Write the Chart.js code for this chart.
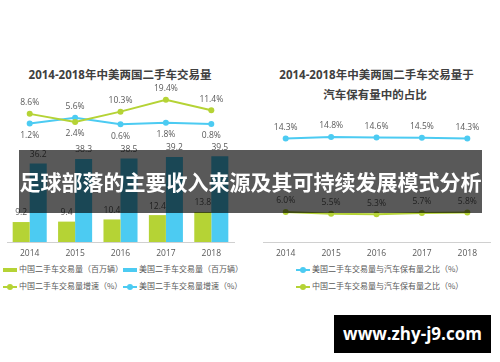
<!DOCTYPE html>
<html>
<head>
<meta charset="utf-8">
<script src="https://cdn.jsdelivr.net/npm/chart.js@4"></script>
<style>
  body { margin: 0; background: #fff; }
  #page { position: relative; width: 500px; height: 362px; overflow: hidden; background: #fff;
          font-family: 'Open Sans', 'Noto Sans CJK SC', sans-serif; }
  canvas { position: absolute; }
  .title { position: absolute; color: #404040; font-weight: bold; font-size: 11.5px; text-align: center;
           white-space: nowrap; line-height: 14px; }
  .legend { position: absolute; font-size: 8px; color: #595959; white-space: nowrap; line-height: 10px;
            font-family: 'Noto Sans CJK SC', sans-serif; }
  .legend i { display: inline-block; position: relative; vertical-align: middle; margin-right: 2px; }
  .box { width: 14px; height: 4px; }
  .ln { width: 14px; height: 2px; }
  .ln b { position: absolute; left: 4px; top: -2px; width: 6px; height: 6px; border-radius: 50%; background: inherit; }
  #banner { position: absolute; left: 19px; top: 150px; width: 463px; height: 63px; background: rgba(0,0,0,0.65);
            color: #fff; font: bold 21px 'Noto Sans CJK SC', sans-serif; text-align: center; line-height: 63px;
            white-space: nowrap; }
  #mark { position: absolute; left: 334px; top: 315px; width: 157px; height: 38px; background: #000; color: #fff;
          font: bold 17px 'Open Sans', sans-serif; text-align: center; line-height: 38px; }
</style>
</head>
<body>
<div id="page">
  <div class="title" style="left:0;width:240px;top:68px">2014-2018年中美两国二手车交易量</div>
  <div class="title" style="left:250px;width:253px;top:68px">2014-2018年中美两国二手车交易量于</div>
  <div class="title" style="left:250px;width:250px;top:88px">汽车保有量中的占比</div>

  <canvas id="volChart" width="250" height="180" style="left:0;top:80px"></canvas>
  <canvas id="shareChart" width="250" height="180" style="left:250px;top:80px"></canvas>

  <div class="legend" style="left:3px;top:264px"><i class="box" style="background:#b5d335"></i>中国二手车交易量（百万辆）</div>
  <div class="legend" style="left:123px;top:264px"><i class="box" style="background:#4ccbf2"></i>美国二手车交易量（百万辆）</div>
  <div class="legend" style="left:3px;top:281px"><i class="ln" style="background:#b5d335"><b></b></i>中国二手车交易量增速（%）</div>
  <div class="legend" style="left:123px;top:281px"><i class="ln" style="background:#4ccbf2"><b></b></i>美国二手车交易量增速（%）</div>
  <div class="legend" style="left:296px;top:264px"><i class="ln" style="background:#4ccbf2"><b></b></i>美国二手车交易量与汽车保有量之比（%）</div>
  <div class="legend" style="left:296px;top:281px"><i class="ln" style="background:#b5d335"><b></b></i>中国二手车交易量与汽车保有量之比（%）</div>

  <div id="banner">足球部落的主要收入来源及其可持续发展模式分析</div>
  <div id="mark">www.zhy-j9.com</div>
</div>

<script>
// data
const years = ['2014', '2015', '2016', '2017', '2018'];
const cnVolume = [9.2, 9.4, 10.4, 12.4, 13.8];     // 百万辆
const usVolume = [36.2, 38.3, 38.5, 39.2, 39.5];
const cnGrowth = [8.6, 2.4, 10.3, 19.4, 11.4];     // %
const usGrowth = [1.2, 5.6, 0.6, 1.8, 0.8];
const usShare = [14.3, 14.8, 14.6, 14.5, 14.3];    // %
const cnShare = [6.0, 5.5, 5.3, 5.7, 5.8];

const GREEN = '#b5d335';
const BLUE = '#4ccbf2';
const LABEL = '#595959';
const FONT = "'Open Sans', 'Noto Sans CJK SC', sans-serif";

Chart.defaults.font.family = FONT;
Chart.defaults.color = LABEL;

// draws the value labels that sit above / below each mark
const valueLabels = {
    id: 'valueLabels',
    afterDatasetsDraw(chart) {
        const ctx = chart.ctx;
        ctx.save();
        ctx.font = '8.5px ' + FONT;
        ctx.fillStyle = LABEL;
        ctx.textAlign = 'center';
        ctx.textBaseline = 'middle';
        chart.data.datasets.forEach((ds, i) => {
            const meta = chart.getDatasetMeta(i);
            meta.data.forEach((el, j) => {
                const v = ds.data[j];
                let dy = ds.type === 'line' ? -11 : -9;
                if (ds.pair) {
                    // lower of the two lines gets its label underneath
                    const other = chart.data.datasets.find(d => d.label === ds.pair).data[j];
                    if (v < other) dy = 12;
                }
                const txt = ds.suffix ? v.toFixed(1) + ds.suffix : v.toFixed(1);
                ctx.fillText(txt, el.x, el.y + dy);
            });
        });
        ctx.restore();
    }
};

function lineSet(label, data, color, axis, extra) {
    return Object.assign({
        type: 'line', label, data, yAxisID: axis,
        borderColor: color, backgroundColor: color, borderWidth: 2,
        pointRadius: 3, pointBackgroundColor: color, pointBorderWidth: 0,
        tension: 0, order: 0, suffix: '%'
    }, extra || {});
}

const xAxis = {
    grid: { display: false, drawTicks: false },
    border: { display: true, color: '#d0d0d0', width: 1 },
    ticks: { font: { size: 8.5 }, color: LABEL, padding: 6 },
    afterFit: s => { s.height = 18; }
};

new Chart(document.getElementById('volChart'), {
    type: 'bar',
    data: {
        labels: years,
        datasets: [
            { label: 'cnVol', data: cnVolume, backgroundColor: GREEN, yAxisID: 'yBar', order: 1,
              categoryPercentage: 0.75, barPercentage: 1.0 },
            { label: 'usVol', data: usVolume, backgroundColor: BLUE, yAxisID: 'yBar', order: 1,
              categoryPercentage: 0.75, barPercentage: 1.0 },
            lineSet('cnGrowth', cnGrowth, GREEN, 'yLine', { pair: 'usGrowth' }),
            lineSet('usGrowth', usGrowth, BLUE, 'yLine', { pair: 'cnGrowth' })
        ]
    },
    options: {
        responsive: false,
        animation: false,
        devicePixelRatio: 1,
        layout: { padding: { left: 7, right: 16, top: 8, bottom: 0 } },
        plugins: { legend: { display: false }, tooltip: { enabled: false } },
        scales: {
            x: xAxis,
            yBar: { display: false, min: 0, max: 71 },
            yLine: { display: false, min: -90, max: 28.5 }
        }
    },
    plugins: [valueLabels]
});

new Chart(document.getElementById('shareChart'), {
    type: 'line',
    data: {
        labels: years,
        datasets: [
            lineSet('usShare', usShare, BLUE, 'yUs'),
            lineSet('cnShare', cnShare, GREEN, 'yCn')
        ]
    },
    options: {
        responsive: false,
        animation: false,
        devicePixelRatio: 1,
        layout: { padding: { left: 13, right: 10, top: 8, bottom: 0 } },
        plugins: { legend: { display: false }, tooltip: { enabled: false } },
        scales: {
            x: Object.assign({}, xAxis, { offset: true }),
            yUs: { display: false, min: -20.2, max: 31.1 },
            yCn: { display: false, min: -2.6, max: 41.4 }
        }
    },
    plugins: [valueLabels]
});
</script>
</body>
</html>
